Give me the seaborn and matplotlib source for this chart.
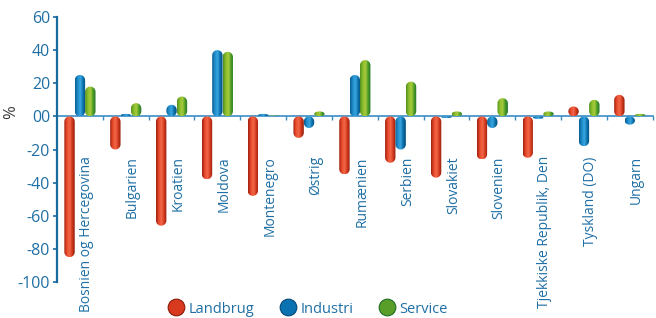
import numpy as np
import pandas as pd
import matplotlib
matplotlib.use("Agg")
import matplotlib.pyplot as plt
import seaborn as sns
from matplotlib.patches import Polygon
from matplotlib.lines import Line2D
from matplotlib.colors import LinearSegmentedColormap, to_rgb

# ---------------------------------------------------------
# Data (ændring i %)
# ---------------------------------------------------------
lande = ["Bosnien og Hercegovina", "Bulgarien", "Kroatien", "Moldova",
         "Montenegro", "Østrig", "Rumænien", "Serbien", "Slovakiet",
         "Slovenien", "Tjekkiske Republik, Den", "Tyskland (DO)", "Ungarn"]
landbrug = [-85, -20, -66, -38, -48, -13, -35, -28, -37, -26, -25, 6, 13]
industri = [25, 1.5, 7, 40, 1.5, -7, 25, -20, -1, -7, -1.5, -18, -5]
service = [18, 8, 12, 39, 0.5, 3, 34, 21, 3, 11, 3, 10, 1.5]
sektorer = ["Landbrug", "Industri", "Service"]
yticks = [-100, -80, -60, -40, -20, 0, 20, 40, 60]
ytick_labels = ["-100", "-80", "-60", "-40", "-20", "00", "20", "40", "60"]

BLUE_TXT = "#1f6fa5"
COLORS = {"Landbrug": "#d9391e", "Industri": "#0a72b0", "Service": "#5a9e2a"}
# cylinder-gradient (venstre -> hoejre)
GRAD = {
    "Landbrug": ["#9a1e0e", "#e8482a", "#f2684a", "#d2381c", "#8a1a0a"],
    "Industri": ["#0a5a8c", "#1e8cca", "#3aa6e0", "#0a6ea8", "#044a78"],
    "Service":  ["#4c8e1e", "#8cbc2c", "#a8cc3c", "#4a9a26", "#1a6e24"],
}

df = pd.DataFrame({"Land": lande * 3,
                   "Sektor": np.repeat(sektorer, len(lande)),
                   "Vaerdi": landbrug + industri + service})

sns.set_theme(style="white")
plt.rcParams["font.family"] = ["Open Sans", "DejaVu Sans"]

fig = plt.figure(figsize=(6.56, 3.18), dpi=100)
ax = fig.add_axes([0.0869, 0.1132, 0.908, 0.8333])

sns.barplot(data=df, x="Land", y="Vaerdi", hue="Sektor", order=lande,
            hue_order=sektorer, palette=COLORS, saturation=1, width=0.68,
            legend=False, ax=ax)

ax.set_xlim(-0.5, len(lande) - 0.5)
ax.set_ylim(-100, 60)

# pixel pr. enhed for at lave runde ender
tr = ax.transData
px_per_y = abs(tr.transform((0, 1))[1] - tr.transform((0, 0))[1])
px_per_x = abs(tr.transform((1, 0))[0] - tr.transform((0, 0))[0])

bars = list(ax.patches)
for p in bars:
    fc = np.array(p.get_facecolor()[:3])
    sek = min(sektorer, key=lambda s: np.sum((np.array(to_rgb(COLORS[s])) - fc) ** 2))
    x0, w = p.get_x(), p.get_width()
    v0, h = p.get_y(), p.get_height()
    ya, yb = min(v0, v0 + h), max(v0, v0 + h)
    p.set_visible(False)
    if yb - ya <= 0:
        continue
    rx = w / 2
    ry = min(rx * px_per_x / px_per_y, (yb - ya) / 2)
    xc = x0 + rx
    t1 = np.linspace(0, np.pi, 30)
    t2 = np.linspace(np.pi, 2 * np.pi, 30)
    xs = np.concatenate([xc + rx * np.cos(t1), xc + rx * np.cos(t2)])
    ys = np.concatenate([yb - ry + ry * np.sin(t1), ya + ry + ry * np.sin(t2)])
    poly = Polygon(np.column_stack([xs, ys]), closed=True, facecolor="none",
                   edgecolor="none", transform=ax.transData)
    ax.add_patch(poly)
    cmap = LinearSegmentedColormap.from_list(sek, GRAD[sek])
    im = ax.imshow(np.linspace(0, 1, 128)[None, :], extent=(x0, x0 + w, ya, yb),
                   cmap=cmap, aspect="auto", zorder=3, interpolation="bilinear")
    im.set_clip_path(poly)

ax.set_xlim(-0.5, len(lande) - 0.5)
ax.set_ylim(-100, 60)

# akser
for s in ["top", "right"]:
    ax.spines[s].set_visible(False)
ax.spines["left"].set_color("#1a6aa0")
ax.spines["left"].set_linewidth(1.6)
ax.spines["bottom"].set_position(("data", 0))
ax.spines["bottom"].set_color("#3a8cc4")
ax.spines["bottom"].set_linewidth(1.2)
ax.spines["bottom"].set_zorder(1)

ax.set_yticks(yticks)
ax.set_yticklabels(ytick_labels)
ax.tick_params(axis="y", direction="out", length=3, width=1.2, color="#1a6aa0",
               labelcolor=BLUE_TXT, labelsize=11.5, pad=2, left=True)
ax.set_xticks(np.arange(0.5, len(lande), 1))
ax.set_xticklabels([])
ax.tick_params(axis="x", direction="out", length=3, width=1, color="#3a8cc4", bottom=True)
ax.set_xlabel("")
ax.set_ylabel("")

for i, navn in enumerate(lande):
    ax.text(i + 0.15, -24, navn, rotation=90, ha="center", va="top",
            color=BLUE_TXT, fontsize=10)

fig.text(0.017, 0.648, "%", rotation=90, ha="center", va="center",
         color="#3a3a3a", fontsize=12)

handles = [Line2D([], [], marker="o", linestyle="", markersize=12,
                  markerfacecolor=COLORS[s], markeredgecolor=GRAD[s][-1],
                  markeredgewidth=0.8) for s in sektorer]
leg = fig.legend(handles, sektorer, loc="center", bbox_to_anchor=(0.47, 0.028),
                 ncol=3, frameon=False, fontsize=10.5, handlelength=1.0,
                 handletextpad=0.35, columnspacing=1.8, borderpad=0)
for t in leg.get_texts():
    t.set_color(BLUE_TXT)

fig.savefig("out.png", dpi=100)
